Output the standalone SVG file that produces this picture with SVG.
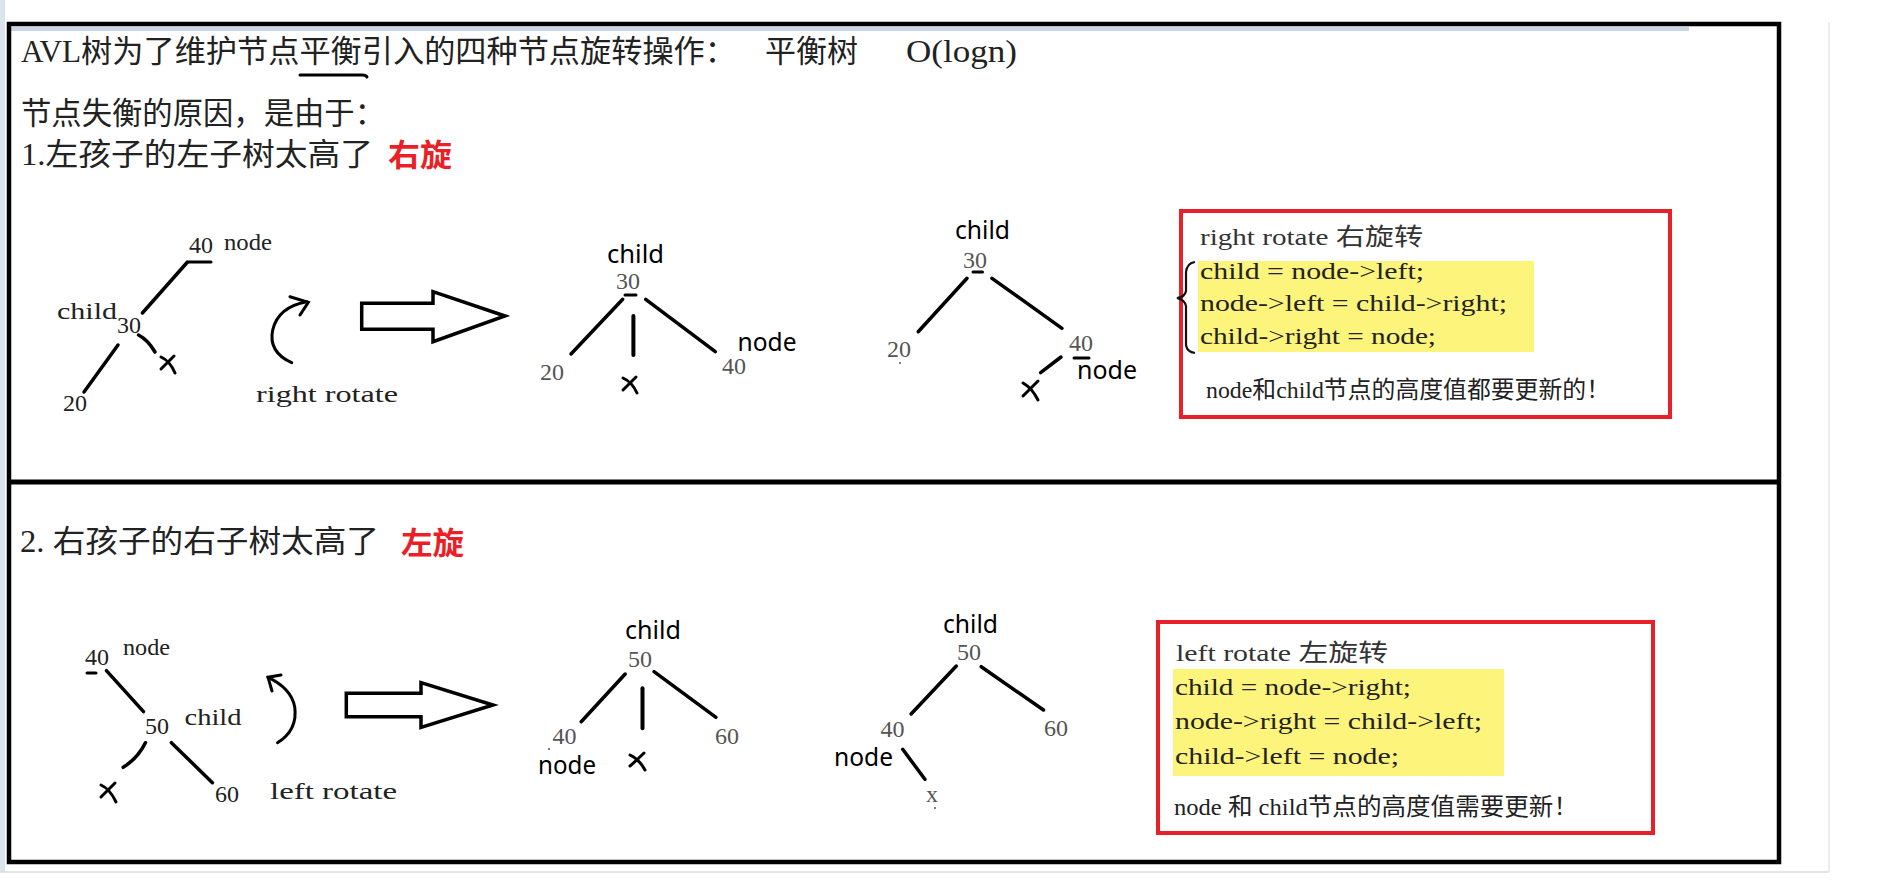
<svg xmlns="http://www.w3.org/2000/svg" width="1894" height="883" viewBox="0 0 1894 883">
<style>
.s{font-family:"Liberation Serif","Noto Sans CJK SC",serif;fill:#222}
.t{font-size:31px}
.m{font-size:24px}
.g{fill:#555}
.a{font-family:"Noto Sans","Open Sans",sans-serif;font-size:26px;fill:#000}
.r{font-family:"Noto Sans CJK SC","Noto Sans",sans-serif;font-weight:700;font-size:31px;fill:#ea1f27}
.e{stroke:#000;stroke-width:3.5;stroke-linecap:round;fill:none}
.d{stroke:#000;stroke-width:3;stroke-linecap:round;fill:none}
.box{fill:none;stroke:#e8202a;stroke-width:4}
.hl{fill:#fdf47c}
.big{fill:#fff;stroke:#000;stroke-width:3.5;stroke-linejoin:miter}
</style>
<rect x="0" y="0" width="1894" height="883" fill="#fff"/>
<rect x="0" y="0" width="5" height="872" fill="#dbe3ef"/>
<line x1="0" y1="872" x2="1829" y2="872" stroke="#dcdcdc" stroke-width="1.5"/>
<line x1="1829" y1="22" x2="1829" y2="872" stroke="#e6e6e6" stroke-width="1.5"/>
<rect x="11" y="27" width="1678" height="4" fill="#c9d5e7"/>
<g id="frame">
<rect x="9" y="24" width="1770" height="838" fill="none" stroke="#000" stroke-width="4.5"/>
<line x1="9" y1="482" x2="1779" y2="482" stroke="#000" stroke-width="5"/>
</g>

<g id="heading">
<text class="s t" x="21" y="62" textLength="715" lengthAdjust="spacingAndGlyphs">AVL树为了维护节点平衡引入的四种节点旋转操作：</text>
<text class="s t" x="765" y="62" textLength="93" lengthAdjust="spacingAndGlyphs">平衡树</text>
<text class="s t" x="906" y="62" textLength="111" lengthAdjust="spacingAndGlyphs">O(logn)</text>
<path class="d" d="M300,75 L362,75 Q366,75 367,77"/>
<text class="s t" x="21" y="124" textLength="364" lengthAdjust="spacingAndGlyphs">节点失衡的原因，是由于：</text>
<text class="s t" x="21" y="165" textLength="352" lengthAdjust="spacingAndGlyphs">1.左孩子的左子树太高了</text>
<text class="r" x="388" y="166" textLength="64" lengthAdjust="spacingAndGlyphs">右旋</text>
</g>

<g id="connectors">
<line class="e" x1="187.5" y1="262" x2="142.4" y2="313"/>
<line class="e" x1="118" y1="345" x2="84" y2="392"/>
<path class="e" d="M138.5,335 Q148,340 155,352"/>
<line class="e" x1="622.7" y1="299.3" x2="571" y2="354"/>
<line class="e" x1="633.4" y1="316" x2="633.4" y2="355" style="stroke-width:4"/>
<line class="e" x1="645.7" y1="299.3" x2="715.3" y2="351.7"/>
<line class="e" x1="967" y1="278.3" x2="918.2" y2="331.7"/>
<line class="e" x1="992" y1="278.3" x2="1062" y2="328.3"/>
<line class="e" x1="1061" y1="357" x2="1040.6" y2="372.7"/>
<line class="e" x1="106.4" y1="670.7" x2="143.5" y2="711.7"/>
<path class="e" d="M145.4,742.7 Q138,758 123.2,767.3"/>
<line class="e" x1="171.4" y1="742.7" x2="212.4" y2="782.7"/>
<line class="e" x1="625.2" y1="674" x2="581.2" y2="721.7"/>
<line class="e" x1="642.5" y1="688.3" x2="642.5" y2="728.3" style="stroke-width:4"/>
<line class="e" x1="654" y1="671.7" x2="716" y2="717.3"/>
<line class="e" x1="956.3" y1="666" x2="911.1" y2="714"/>
<line class="e" x1="981.2" y1="666.7" x2="1043.5" y2="710"/>
<line class="e" x1="902.7" y1="749.3" x2="924.9" y2="779.3"/>
</g>

<g id="s1-node40">
<text class="s m" x="189" y="253">40</text>
<line class="d" x1="189" y1="262" x2="211" y2="262"/>
<text class="s m" x="224" y="250" textLength="48" lengthAdjust="spacingAndGlyphs">node</text>
</g>
<g id="s1-child30">
<text class="s m" x="57" y="319" textLength="60" lengthAdjust="spacingAndGlyphs">child</text>
<text class="s m" x="117" y="333" textLength="24" lengthAdjust="spacingAndGlyphs">30</text>
</g>
<g id="s1-node20"><text class="s m" x="63" y="411">20</text></g>
<g id="s1-x"><path class="d" d="M161,357 Q170,361 175,373 M174,356 Q168,362 161,369"/></g>
<g id="s1-rotate">
<path class="d" d="M291.7,362.7 Q268,352 272.7,330 Q278,307 306.7,301.7"/>
<path class="d" d="M290,296.7 L308.3,302.3 L300,315"/>
<text class="s m" x="256" y="402" textLength="142" lengthAdjust="spacingAndGlyphs">right rotate</text>
</g>
<g id="s1-arrow"><path class="big" d="M361.7,303.3 L433,303.3 L433,291.7 L505,316 L433,341.7 L433,329.3 L361.7,329.3 Z"/></g>

<g id="s1m-child30">
<text class="a" x="607" y="263" textLength="57" lengthAdjust="spacingAndGlyphs">child</text>
<text class="s m g" x="616" y="289">30</text>
<line class="d" x1="625" y1="295" x2="636" y2="295"/>
</g>
<g id="s1m-node20"><text class="s m g" x="540" y="380">20</text></g>
<g id="s1m-x"><path class="d" d="M623,378 Q632,382 637,393 M636,377 Q630,383 623,390"/></g>
<g id="s1m-node40">
<text class="s m g" x="722" y="374">40</text>
<text class="a" x="737.5" y="351" textLength="59" lengthAdjust="spacingAndGlyphs">node</text>
</g>

<g id="s1r-child30">
<text class="a" x="955" y="239" textLength="55" lengthAdjust="spacingAndGlyphs">child</text>
<text class="s m g" x="963" y="268">30</text>
<line class="d" x1="973" y1="272" x2="982.5" y2="272"/>
</g>
<g id="s1r-node20">
<text class="s m g" x="887" y="357">20</text>
<circle cx="900" cy="363" r="1" fill="#555"/>
</g>
<g id="s1r-node40">
<text class="s m g" x="1069" y="351">40</text>
<line class="d" x1="1074" y1="358" x2="1089" y2="358"/>
<text class="a" x="1077" y="379" textLength="60" lengthAdjust="spacingAndGlyphs">node</text>
</g>
<g id="s1r-x"><path class="d" d="M1023,383 Q1032,388 1038,400 M1038,381 Q1031,388 1023,396"/></g>

<g id="s1-code">
<rect class="box" x="1181" y="211" width="489" height="206"/>
<rect class="hl" x="1198" y="261" width="336" height="91"/>
<text class="s m" x="1200" y="245" textLength="223" lengthAdjust="spacingAndGlyphs" style="fill:#333">right rotate 右旋转</text>
<text class="s m" x="1200" y="279" textLength="224" lengthAdjust="spacingAndGlyphs">child = node-&gt;left;</text>
<text class="s m" x="1200" y="311" textLength="307" lengthAdjust="spacingAndGlyphs">node-&gt;left = child-&gt;right;</text>
<text class="s m" x="1200" y="344" textLength="236" lengthAdjust="spacingAndGlyphs">child-&gt;right = node;</text>
<path d="M1195,262 Q1187,263 1186,272 L1186,291 Q1185,297 1177,298 Q1185,300 1186,306 L1186,345 Q1187,352 1195,353" fill="none" stroke="#111" stroke-width="2.2"/>
<text class="s m" x="1206" y="398" textLength="404" lengthAdjust="spacingAndGlyphs">node和child节点的高度值都要更新的！</text>
</g>

<g id="heading2">
<text class="s t" x="20" y="552" textLength="359" lengthAdjust="spacingAndGlyphs">2. 右孩子的右子树太高了</text>
<text class="r" x="401" y="554" textLength="63" lengthAdjust="spacingAndGlyphs">左旋</text>
</g>

<g id="s2-node40">
<text class="s m" x="85" y="665">40</text>
<line class="d" x1="87" y1="673" x2="96" y2="673"/>
<text class="s m" x="123" y="655" textLength="47" lengthAdjust="spacingAndGlyphs">node</text>
</g>
<g id="s2-child50">
<text class="s m" x="145" y="734">50</text>
<text class="s m" x="184.5" y="725" textLength="57" lengthAdjust="spacingAndGlyphs">child</text>
</g>
<g id="s2-x"><path class="d" d="M101,785 Q110,789 116,802 M115,783 Q109,789 101,797"/></g>
<g id="s2-node60"><text class="s m" x="215" y="802">60</text></g>
<g id="s2-rotate">
<path class="d" d="M277.5,742.7 Q298,730 294.7,706.7 Q291,688 268,677.3"/>
<path class="d" d="M281,675 L268,677.3 L272,691"/>
<text class="s m" x="270" y="799" textLength="127" lengthAdjust="spacingAndGlyphs">left rotate</text>
</g>
<g id="s2-arrow"><path class="big" d="M346.3,693.3 L421,693.3 L421,682.7 L493,705 L421,727.3 L421,716.7 L346.3,716.7 Z"/></g>

<g id="s2m-child50">
<text class="a" x="625" y="639" textLength="56" lengthAdjust="spacingAndGlyphs">child</text>
<text class="s m g" x="628" y="667">50</text>
</g>
<g id="s2m-node40">
<text class="s m g" x="552.5" y="744">40</text>
<circle cx="549" cy="749" r="1" fill="#555"/>
<text class="a" x="538" y="774" textLength="58" lengthAdjust="spacingAndGlyphs">node</text>
</g>
<g id="s2m-x"><path class="d" d="M630,755 Q639,759 645,770 M644,753 Q638,759 630,766"/></g>
<g id="s2m-node60"><text class="s m g" x="715" y="744">60</text></g>

<g id="s2r-child50">
<text class="a" x="943" y="633" textLength="55" lengthAdjust="spacingAndGlyphs">child</text>
<text class="s m g" x="957" y="660">50</text>
</g>
<g id="s2r-node40">
<text class="s m g" x="880.5" y="737">40</text>
<text class="a" x="834" y="766" textLength="59" lengthAdjust="spacingAndGlyphs">node</text>
</g>
<g id="s2r-node60"><text class="s m g" x="1044" y="736">60</text></g>
<g id="s2r-x">
<text class="s m g" x="926" y="802">x</text>
<circle cx="935" cy="808" r="1" fill="#555"/>
</g>

<g id="s2-code">
<rect class="box" x="1158" y="622" width="495" height="211"/>
<rect class="hl" x="1173" y="669" width="331" height="107"/>
<text class="s m" x="1176" y="661" textLength="212" lengthAdjust="spacingAndGlyphs" style="fill:#333">left rotate 左旋转</text>
<text class="s m" x="1175" y="695" textLength="236" lengthAdjust="spacingAndGlyphs">child = node-&gt;right;</text>
<text class="s m" x="1175" y="729" textLength="307" lengthAdjust="spacingAndGlyphs">node-&gt;right = child-&gt;left;</text>
<text class="s m" x="1175" y="764" textLength="224" lengthAdjust="spacingAndGlyphs">child-&gt;left = node;</text>
<text class="s m" x="1174" y="815" textLength="404" lengthAdjust="spacingAndGlyphs">node 和 child节点的高度值需要更新！</text>
</g>
</svg>
